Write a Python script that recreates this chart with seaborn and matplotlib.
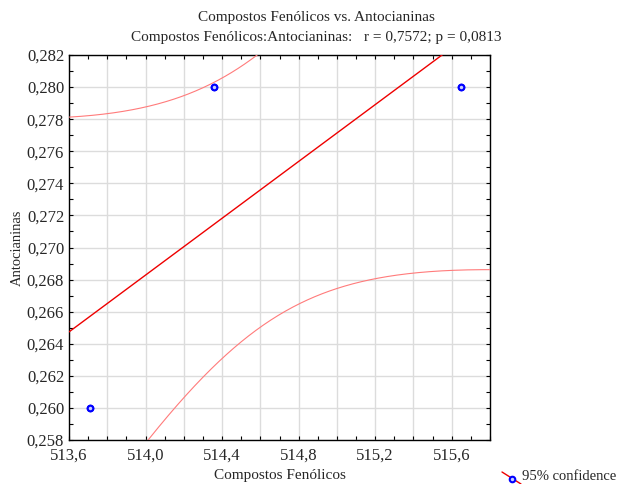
import numpy as np
import pandas as pd
import matplotlib
matplotlib.use("Agg")
import matplotlib.pyplot as plt
from matplotlib.ticker import MultipleLocator, FuncFormatter
from matplotlib.lines import Line2D
import seaborn as sns

# Observations (each pair appears twice in the sample, n = 6)
fenolicos = [513.708, 513.708, 514.357, 514.357, 515.647, 515.647]
antocianinas = [0.260, 0.260, 0.280, 0.280, 0.280, 0.280]

x_ticks_labeled = [513.6, 514.0, 514.4, 514.8, 515.2, 515.6]
y_ticks = [0.258, 0.260, 0.262, 0.264, 0.266, 0.268, 0.270, 0.272,
           0.274, 0.276, 0.278, 0.280, 0.282]

title = "Compostos Fenólicos vs. Antocianinas"
subtitle = "Compostos Fenólicos:Antocianinas:   r = 0,7572; p = 0,0813"
t_crit_df4 = 2.776445  # two-sided 95% Student t, 4 degrees of freedom

df = pd.DataFrame({"Compostos Fenólicos": fenolicos, "Antocianinas": antocianinas})

sns.set_theme(style="ticks")
plt.rcParams["font.family"] = ["Liberation Serif", "DejaVu Serif"]

# Least-squares fit and 95% confidence band of the mean
x = np.asarray(fenolicos)
y = np.asarray(antocianinas)
n = len(x)
xm, ym = x.mean(), y.mean()
sxx = ((x - xm) ** 2).sum()
slope = ((x - xm) * (y - ym)).sum() / sxx
intercept = ym - slope * xm
resid = y - (intercept + slope * x)
s = np.sqrt((resid ** 2).sum() / (n - 2))
xs = np.linspace(513.6, 515.8, 400)
fit = intercept + slope * xs
half = t_crit_df4 * s * np.sqrt(1.0 / n + (xs - xm) ** 2 / sxx)
band = pd.DataFrame({"x": xs, "fit": fit, "lo": fit - half, "hi": fit + half})

fig = plt.figure(figsize=(6.19, 4.84), dpi=100)
ax = fig.add_axes([69 / 619, 1 - 440 / 484, (490 - 69) / 619, (440 - 55) / 484])

sns.lineplot(data=band, x="x", y="hi", ax=ax, color="#ff7b7b", lw=0.8, zorder=3)
sns.lineplot(data=band, x="x", y="lo", ax=ax, color="#ff7b7b", lw=0.8, zorder=3)
sns.lineplot(data=band, x="x", y="fit", ax=ax, color="#ee0000", lw=1.0, zorder=4)
sns.scatterplot(data=df, x="Compostos Fenólicos", y="Antocianinas", ax=ax,
                marker="o", s=16, facecolor="#c8d0ff", edgecolor="#0000ff",
                linewidth=1.5, zorder=5)

ax.set_xlim(513.6, 515.8)
ax.set_ylim(0.258, 0.282)

ax.xaxis.set_major_locator(MultipleLocator(0.2))
ax.xaxis.set_minor_locator(MultipleLocator(0.1))
ax.xaxis.set_major_formatter(FuncFormatter(
    lambda v, p: (f"{v:.1f}".replace(".", ",")
                  if any(abs(v - t) < 1e-6 for t in x_ticks_labeled) else "")))
ax.set_yticks(y_ticks)
ax.yaxis.set_minor_locator(MultipleLocator(0.001))
ax.yaxis.set_major_formatter(FuncFormatter(lambda v, p: f"{v:.3f}".replace(".", ",")))

ax.grid(True, which="major", color="#dcdcdc", lw=1.0, zorder=0)
ax.set_axisbelow(True)
ax.tick_params(which="both", direction="in", top=True, right=True,
               length=3, width=0.8, color="black", labelsize=12)
ax.tick_params(axis="y", pad=3.5)
ax.tick_params(axis="x", pad=5.5)
for sp in ax.spines.values():
    sp.set_color("black")
    sp.set_linewidth(1.0)

ax.set_xlabel("Compostos Fenólicos", fontsize=11, va="center")
ax.set_ylabel("Antocianinas", fontsize=10.5, va="center")
ax.xaxis.set_label_coords(0.5, -(476 - 440) / 385)
ax.yaxis.set_label_coords(-(69 - 17) / 421, 0.5)

fig.text(316 / 619, 1 - 17 / 484, title, ha="center", va="center", fontsize=11)
fig.text(316 / 619, 1 - 38 / 484, subtitle, ha="center", va="center", fontsize=11)

# Legend entry: sample marker crossed by the fit line
fig.add_artist(Line2D([502 / 619, 521 / 619], [1 - 472 / 484, 1 - 484 / 484],
                      transform=fig.transFigure, color="#ee0000", lw=1.0))
fig.add_artist(Line2D([512 / 619], [1 - 479 / 484], transform=fig.transFigure,
                      marker="o", ms=4, mfc="#c8d0ff", mec="#0000ff", mew=1.5, ls=""))
fig.text(522 / 619, 1 - 477 / 484, "95% confidence", ha="left", va="center", fontsize=10.5)

fig.savefig("out.png", dpi=100)
